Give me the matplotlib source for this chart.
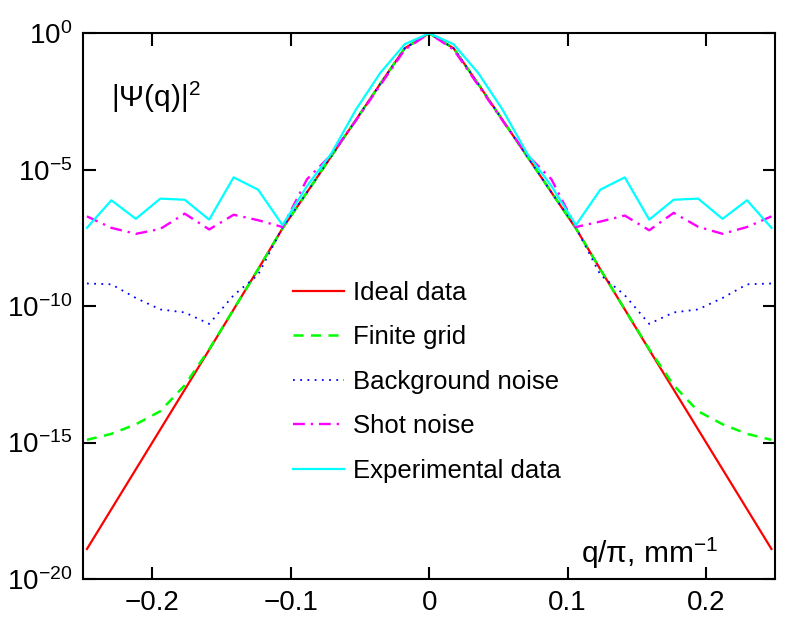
import numpy as np
import matplotlib
matplotlib.use("Agg")
import matplotlib.pyplot as plt
from matplotlib.ticker import NullLocator

plt.rcParams['font.family'] = ['Liberation Sans', 'DejaVu Sans']
plt.rcParams['mathtext.fontset'] = 'custom'
plt.rcParams['mathtext.rm'] = 'Liberation Sans'
plt.rcParams['mathtext.it'] = 'Liberation Sans'

# q/pi grid, 29 samples
q = np.linspace(-0.2473, 0.2473, 29)

# log10 |Psi(q)|^2 for each series (k = -14 .. 14)
ideal_log = [-18.9, -17.44, -15.98, -14.52, -13.06, -11.6, -10.12, -8.65, -7.15,
             -5.83, -4.5, -3.18, -1.85, -0.55, 0.0, -0.55, -1.85, -3.18, -4.5,
             -5.83, -7.15, -8.65, -10.12, -11.6, -13.06, -14.52, -15.98, -17.44, -18.9]
finite_log = [-14.9, -14.68, -14.33, -13.85, -12.9, -11.58, -10.12, -8.65, -7.15,
              -5.83, -4.5, -3.18, -1.85, -0.55, 0.0, -0.55, -1.85, -3.18, -4.5,
              -5.83, -7.15, -8.65, -10.12, -11.58, -12.9, -13.85, -14.33, -14.68, -14.9]
background_log = [-9.17, -9.2, -9.7, -10.12, -10.23, -10.65, -9.6, -8.85, -7.12,
                  -5.83, -4.5, -3.18, -1.85, -0.55, 0.0, -0.55, -1.85, -3.18, -4.5,
                  -5.83, -7.12, -8.85, -9.6, -10.65, -10.23, -10.12, -9.7, -9.2, -9.17]
shot_log = [-6.71, -7.13, -7.35, -7.17, -6.61, -7.19, -6.65, -6.85, -7.1,
            -5.35, -4.45, -3.2, -1.9, -0.6, 0.0, -0.6, -1.9, -3.2, -4.45,
            -5.35, -7.1, -6.9, -6.68, -7.22, -6.58, -7.09, -7.35, -7.1, -6.71]
experimental_log = [-7.13, -6.12, -6.8, -6.06, -6.1, -6.83, -5.28, -5.73, -7.03,
                    -5.6, -4.4, -2.8, -1.45, -0.4, 0.0, -0.4, -1.45, -2.8, -4.4,
                    -5.6, -7.03, -5.73, -5.28, -6.83, -6.1, -6.06, -6.8, -6.12, -7.13]

labels = ['Ideal data', 'Finite grid', 'Background noise', 'Shot noise', 'Experimental data']

fig = plt.figure(figsize=(8, 6.28), dpi=100)
ax = fig.add_axes([0.104, 0.078, 0.865, 0.869])

ax.semilogy(q, 10.0 ** np.array(ideal_log), color='#ff0000', lw=1.6, label=labels[0])
ax.semilogy(q, 10.0 ** np.array(finite_log), color='#00ff00', lw=1.8, ls=(0, (4, 3)), label=labels[1])
ax.semilogy(q, 10.0 ** np.array(background_log), color='#0000ff', lw=1.3, ls=(0, (1, 3)), label=labels[2])
ax.semilogy(q, 10.0 ** np.array(shot_log), color='#ff00ff', lw=1.7, ls=(0, (5, 2.5, 1, 2.5)), label=labels[3])
ax.semilogy(q, 10.0 ** np.array(experimental_log), color='#00ffff', lw=1.6, label=labels[4])

ax.set_xlim(-0.25, 0.25)
ax.set_ylim(1e-20, 1e0)
ax.set_xticks([-0.2, -0.1, 0, 0.1, 0.2])
ax.set_xticklabels(['\u22120.2', '\u22120.1', '0', '0.1', '0.2'])
ax.set_yticks([1e-20, 1e-15, 1e-10, 1e-5, 1e0])
ax.set_yticklabels([r'$10^{-20}$', r'$10^{-15}$', r'$10^{-10}$', r'$10^{-5}$', r'$10^{0}$'])
ax.yaxis.set_minor_locator(NullLocator())
ax.tick_params(direction='in', length=9, width=1.5, top=True, right=True,
               labelsize=20, pad=8)
for s in ax.spines.values():
    s.set_linewidth(1.5)

ax.text(0.04, 0.865, '|\u03a8(q)|$^{2}$', transform=ax.transAxes, fontsize=21.5,
        va='baseline', ha='left')
ax.text(0.918, 0.03, 'q/\u03c0, mm$^{\u22121}$', transform=ax.transAxes, fontsize=21.5,
        va='baseline', ha='right')

ax.legend(loc='upper left', bbox_to_anchor=(0.366, 0.553), bbox_transform=fig.transFigure,
          frameon=False, fontsize=18.5, handlelength=2.0, handletextpad=0.35,
          labelspacing=0.8, borderpad=0, borderaxespad=0)

fig.savefig('out.png', dpi=100)
